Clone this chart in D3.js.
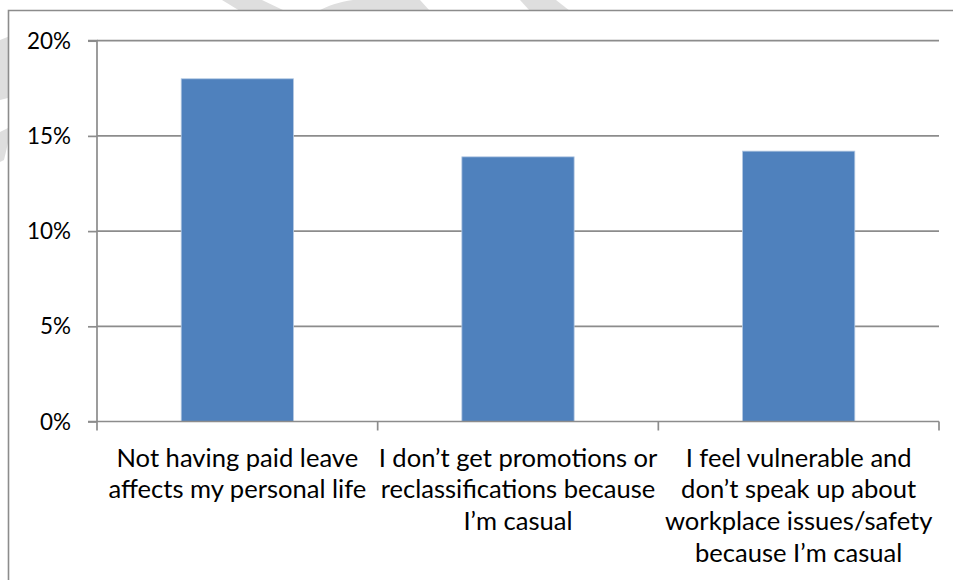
<!DOCTYPE html>
<html>
<head>
<meta charset="utf-8">
<script src="https://cdn.jsdelivr.net/npm/d3@7"></script>
<style>
  html, body { margin: 0; padding: 0; background: #ffffff; }
  svg { display: block; }
</style>
</head>
<body>
<svg id="chart" width="953" height="580"></svg>
<script>
// ---- data ----
const categories = [
  "Not having paid leave affects my personal life",
  "I don’t get promotions or reclassifications because I’m casual",
  "I feel vulnerable and don’t speak up about workplace issues/safety because I’m casual"
];
const categoryLines = [
  ["Not having paid leave", "affects my personal life"],
  ["I don’t get promotions or", "reclassifications because", "I’m casual"],
  ["I feel vulnerable and", "don’t speak up about", "workplace issues/safety", "because I’m casual"]
];
const values = [0.180, 0.139, 0.142];
const yTicks = [0, 0.05, 0.10, 0.15, 0.20];

// ---- layout ----
const W = 953, H = 580;
const plot = { left: 97, right: 939, top: 40.7, bottom: 421.5 };
const FONT = "Lato, 'Open Sans', 'DejaVu Sans', sans-serif";

const svg = d3.select("#chart");

// watermark fragments (light grey, behind chart)
const wm = svg.append("g").attr("fill", "#dedede");
wm.append("path").attr("d", "M0,40 L10,36 L22,60 L16,96 L0,100 Z");
wm.append("path").attr("d", "M0,132 L12,126 L4,160 L0,162 Z");
wm.append("path").attr("d", "M222,0 L262,0 L285,11 L240,11 Z");
wm.append("path").attr("d", "M318,11 C335,2 360,-4 390,0 L420,0 L430,11 Z");
wm.append("path").attr("d", "M520,0 L556,0 L570,11 L530,11 Z");

// chart area (white) and outer frame
svg.append("rect").attr("x", 8).attr("y", 10).attr("width", W).attr("height", H)
  .attr("fill", "#ffffff");
svg.append("path").attr("d", `M8.5,${H} L8.5,10.5 L${W},10.5`)
  .attr("fill", "none").attr("stroke", "#8c8c8c").attr("stroke-width", 1.6);

// ---- scales ----
const x = d3.scaleBand().domain(categories).range([plot.left, plot.right])
  .paddingInner(0.6).paddingOuter(0.3);
const y = d3.scaleLinear().domain([0, 0.20]).range([plot.bottom, plot.top]);

// measure helper to fit font sizes
function measure(txt, size) {
  const t = svg.append("text").attr("font-family", FONT).attr("font-size", size).text(txt);
  const w = t.node().getComputedTextLength();
  t.remove();
  return w;
}
const catSize = Math.min(26, 22 * 258 / measure("affects my personal life", 22));
const tickSize = Math.min(26, 22 * 44 / measure("20%", 22));

// gridlines
svg.append("g")
  .selectAll("line").data(yTicks.filter(d => d > 0)).join("line")
  .attr("x1", plot.left).attr("x2", plot.right)
  .attr("y1", d => y(d)).attr("y2", d => y(d))
  .attr("stroke", "#8c8c8c").attr("stroke-width", 1.7);

// bars
svg.append("g")
  .selectAll("rect").data(values).join("rect")
  .attr("x", (d, i) => x(categories[i]))
  .attr("width", x.bandwidth())
  .attr("y", d => y(d))
  .attr("height", d => y(0) - y(d))
  .attr("fill", "#4f81bd")
  .attr("stroke", "#b3c8e2").attr("stroke-width", 0.8);

// y axis
const yAxis = d3.axisLeft(y).tickValues(yTicks).tickFormat(d3.format(".0%"))
  .tickSize(9).tickPadding(17);
const gy = svg.append("g").attr("transform", `translate(${plot.left},0)`).call(yAxis);
gy.select(".domain").attr("stroke", "#8c8c8c").attr("stroke-width", 1.7)
  .attr("d", `M-9,${plot.top}H0V${plot.bottom}`);
gy.selectAll(".tick line").attr("stroke", "#8c8c8c").attr("stroke-width", 1.7);
gy.selectAll(".tick text")
  .attr("font-family", FONT).attr("font-size", tickSize).attr("fill", "#000")
  .attr("dy", "0.34em");

// x axis
const xAxis = d3.axisBottom(x).tickSize(0).tickFormat("");
const gx = svg.append("g").attr("transform", `translate(0,${plot.bottom})`).call(xAxis);
gx.select(".domain").attr("stroke", "#8c8c8c").attr("stroke-width", 1.7)
  .attr("d", `M${plot.left - 9},0H${plot.right}`);
// category boundary ticks
const bounds = [plot.left].concat(categories.map(c => x(c) - x.step() * x.paddingInner() / 2 + x.step()));
bounds[bounds.length - 1] = plot.right;
gx.append("g").selectAll("line").data(bounds).join("line")
  .attr("x1", d => d).attr("x2", d => d).attr("y1", 0).attr("y2", 9)
  .attr("stroke", "#8c8c8c").attr("stroke-width", 1.7);

// category labels
const lineH = 31.7;
const firstBaseline = 466.5;
const lab = svg.append("g").attr("font-family", FONT).attr("font-size", catSize)
  .attr("fill", "#000").attr("text-anchor", "middle");
categories.forEach((c, i) => {
  const cx = x(c) + x.bandwidth() / 2;
  const t = lab.append("text").attr("x", cx).attr("y", firstBaseline);
  categoryLines[i].forEach((ln, j) => {
    t.append("tspan").attr("x", cx).attr("y", firstBaseline + j * lineH).text(ln);
  });
});
</script>
</body>
</html>
